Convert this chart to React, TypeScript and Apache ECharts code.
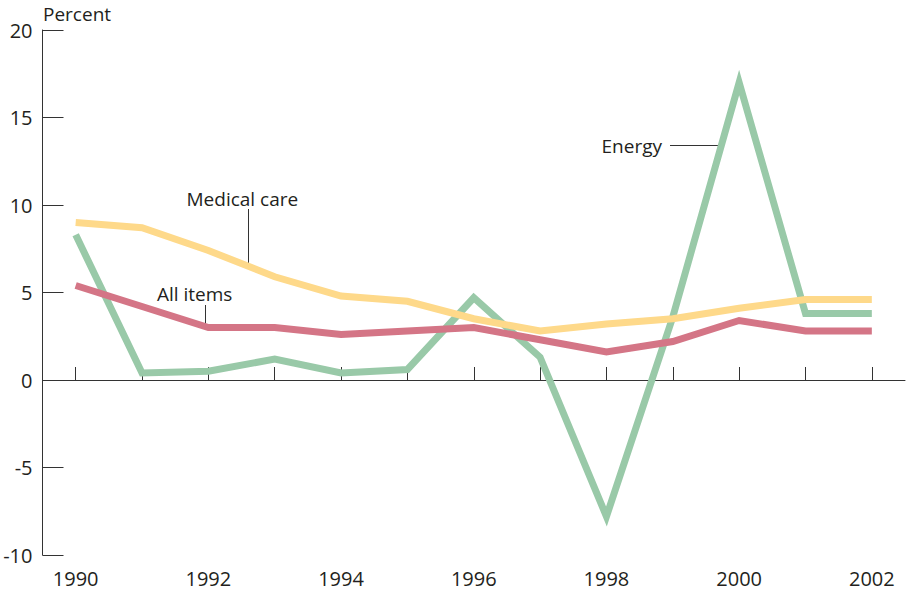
import React, { useEffect, useRef } from "react";
import * as echarts from "echarts";

const years = ["1990","1991","1992","1993","1994","1995","1996","1997","1998","1999","2000","2001","2002"];
const energy = [8.3, 0.4, 0.5, 1.2, 0.4, 0.6, 4.7, 1.3, -7.8, 3.6, 17.0, 3.8, 3.8];
const medicalCare = [9.0, 8.7, 7.4, 5.9, 4.8, 4.5, 3.5, 2.8, 3.2, 3.5, 4.1, 4.6, 4.6];
const allItems = [5.4, 4.2, 3.0, 3.0, 2.6, 2.8, 3.0, 2.3, 1.6, 2.2, 3.4, 2.8, 2.8];

const FONT = "'Open Sans', sans-serif";
const AXIS = "#333333";
const TEXT = "#231f20";

export default function App() {
  const ref = useRef<HTMLDivElement>(null);
  useEffect(() => {
    if (!ref.current) return;
    const chart = echarts.init(ref.current, undefined, { renderer: "svg" });
    const textStyle = (s: string, x: number, y: number) => ({
      type: "text",
      x,
      y,
      style: { text: s, fill: TEXT, font: `19px ${FONT}`, textAlign: "left", textVerticalAlign: "middle" },
    });
    const leader = (x1: number, y1: number, x2: number, y2: number) => ({
      type: "line",
      shape: { x1, y1, x2, y2 },
      style: { stroke: AXIS, lineWidth: 1 },
    });
    chart.setOption({
      animation: false,
      backgroundColor: "#ffffff",
      grid: { left: 42.5, right: 7, top: 30, bottom: 39, containLabel: false, outerBoundsMode: "none" },
      xAxis: [
        {
          type: "category",
          data: years,
          boundaryGap: true,
          position: "bottom",
          axisLine: { show: true, onZero: true, lineStyle: { color: AXIS, width: 1 } },
          axisTick: { show: true, inside: true, length: 13, alignWithLabel: true, interval: 0, lineStyle: { color: AXIS, width: 1 } },
          axisLabel: { show: false },
          splitLine: { show: false },
        },
        {
          type: "category",
          data: years,
          boundaryGap: true,
          position: "bottom",
          axisLine: { show: false, onZero: false },
          axisTick: { show: false },
          axisLabel: { show: true, interval: 1, margin: 13.5, color: TEXT, fontFamily: FONT, fontSize: 20 },
          splitLine: { show: false },
        },
      ],
      yAxis: {
        type: "value",
        min: -10,
        max: 20,
        interval: 5,
        axisLine: { show: true, lineStyle: { color: AXIS, width: 1 } },
        axisTick: { show: true, inside: true, length: 21, lineStyle: { color: AXIS, width: 1 } },
        axisLabel: { margin: 10, color: TEXT, fontFamily: FONT, fontSize: 20 },
        splitLine: { show: false },
      },
      series: [
        {
          name: "Energy",
          type: "line",
          data: energy,
          showSymbol: false,
          symbol: "none",
          lineStyle: { color: "#99c9a8", width: 7, join: "miter", cap: "butt" },
          z: 2,
        },
        {
          name: "Medical care",
          type: "line",
          data: medicalCare,
          showSymbol: false,
          symbol: "none",
          lineStyle: { color: "#fed98a", width: 7, join: "miter", cap: "butt" },
          z: 3,
        },
        {
          name: "All items",
          type: "line",
          data: allItems,
          showSymbol: false,
          symbol: "none",
          lineStyle: { color: "#d47586", width: 7, join: "miter", cap: "butt" },
          z: 4,
        },
      ],
      graphic: [
        textStyle("Percent", 43, 13.5),
        textStyle("Medical care", 186.5, 199),
        leader(248.5, 209, 248.5, 263),
        textStyle("All items", 157, 293.5),
        leader(205.5, 305, 205.5, 324),
        textStyle("Energy", 601.5, 145.5),
        leader(670, 145.5, 719, 145.5),
      ],
    });
    return () => chart.dispose();
  }, []);
  return <div ref={ref} style={{ position: "fixed", left: 0, top: 0, width: 912, height: 594 }} />;
}
